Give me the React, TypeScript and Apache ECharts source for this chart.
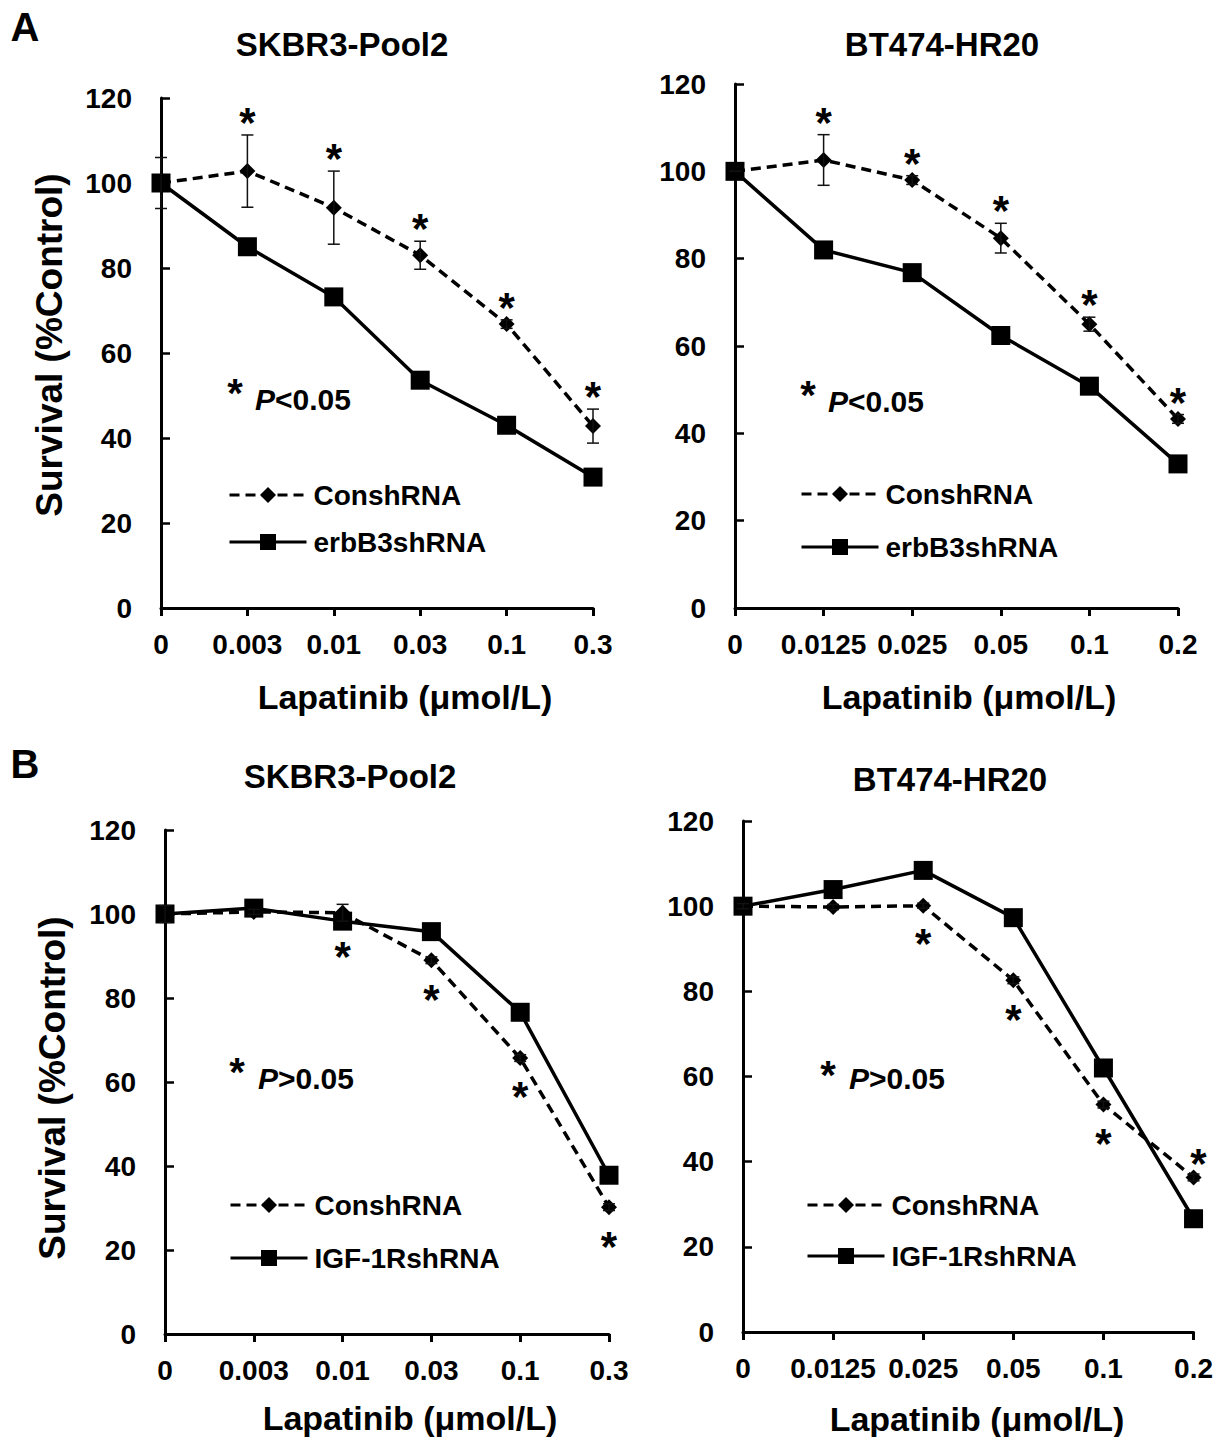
import React, { useEffect, useRef } from "react";
import * as echarts from "echarts";

// ---------- data ----------
const dosesSKBR3 = ["0", "0.003", "0.01", "0.03", "0.1", "0.3"];
const dosesBT474 = ["0", "0.0125", "0.025", "0.05", "0.1", "0.2"];
const yMin = 0;
const yMax = 120;
const yStep = 20;

// Panel A (erbB3 knockdown)
const aSkbrCons = [100, 102.8, 94.2, 83.0, 66.8, 42.8];
const aSkbrConsErr = [6, 8.5, 8.6, 3.3, 1.0, 4.0];
const aSkbrErbb3 = [100, 85.0, 73.2, 53.6, 43.0, 30.8];
const aSkbrStars = [1, 2, 3, 4, 5];

const aBtCons = [100, 102.6, 98.0, 84.7, 65.0, 43.3];
const aBtConsErr = [0, 5.8, 1.0, 3.4, 1.6, 1.0];
const aBtErbb3 = [100, 82.0, 76.8, 62.4, 50.8, 33.0];
const aBtStars = [1, 2, 3, 4, 5];

// Panel B (IGF-1R knockdown)
const bSkbrCons = [100, 100.5, 100.3, 89.0, 65.7, 30.2];
const bSkbrConsErr = [2, 0.6, 2, 0.8, 0.8, 0.8];
const bSkbrIgf = [100, 101.4, 98.3, 95.8, 76.6, 37.8];
const bSkbrStars = [2, 3, 4, 5];

const bBtCons = [100, 99.8, 100.1, 82.6, 53.4, 36.3];
const bBtConsErr = [0.6, 0.6, 0.6, 0.8, 0.8, 0.8];
const bBtIgf = [100, 103.9, 108.4, 97.3, 62.0, 26.6];
const bBtStars = [2, 3, 4, 5];

const FONT = '"Liberation Sans", Arial, Helvetica, sans-serif';

type Panel = {
  cats: string[];
  cons: number[];
  consErr: number[];
  kd: number[];
  kdName: string;
  stars: number[];
  starsBelow: boolean;
  grid: { left: number; top: number; width: number; height: number };
  legendTop: number;
  legendLeft: number;
  legendGap: number;
};

const panels: Panel[] = [
  {
    cats: dosesSKBR3, cons: aSkbrCons, consErr: aSkbrConsErr, kd: aSkbrErbb3, kdName: "erbB3shRNA",
    stars: aSkbrStars, starsBelow: false,
    grid: { left: 161, top: 98, width: 432, height: 510 },
    legendTop: 480, legendLeft: 228, legendGap: 17,
  },
  {
    cats: dosesBT474, cons: aBtCons, consErr: aBtConsErr, kd: aBtErbb3, kdName: "erbB3shRNA",
    stars: aBtStars, starsBelow: false,
    grid: { left: 735, top: 84, width: 443, height: 524 },
    legendTop: 479, legendLeft: 800, legendGap: 23,
  },
  {
    cats: dosesSKBR3, cons: bSkbrCons, consErr: bSkbrConsErr, kd: bSkbrIgf, kdName: "IGF-1RshRNA",
    stars: bSkbrStars, starsBelow: true,
    grid: { left: 165, top: 830, width: 444, height: 504 },
    legendTop: 1190, legendLeft: 229, legendGap: 23,
  },
  {
    cats: dosesBT474, cons: bBtCons, consErr: bBtConsErr, kd: bBtIgf, kdName: "IGF-1RshRNA",
    stars: bBtStars, starsBelow: true,
    grid: { left: 743, top: 821, width: 451, height: 511 },
    legendTop: 1190, legendLeft: 806, legendGap: 21,
  },
];

function buildOption() {
  const grids: any[] = [];
  const xAxes: any[] = [];
  const yAxes: any[] = [];
  const series: any[] = [];
  const legends: any[] = [];

  panels.forEach((p, i) => {
    grids.push({ ...p.grid, containLabel: false });
    xAxes.push({
      type: "category",
      gridIndex: i,
      data: p.cats,
      boundaryGap: false,
      axisLine: { show: true, onZero: false, lineStyle: { color: "#000", width: 3 } },
      axisTick: { show: true, inside: false, length: 8, lineStyle: { color: "#000", width: 3 } },
      axisLabel: {
        interval: 0,
        hideOverlap: false,
        margin: 22,
        color: "#000",
        fontSize: 28,
        fontWeight: "bold",
        fontFamily: FONT,
      },
      splitLine: { show: false },
    });
    yAxes.push({
      type: "value",
      gridIndex: i,
      min: yMin,
      max: yMax,
      interval: yStep,
      axisLine: { show: true, lineStyle: { color: "#000", width: 3 } },
      axisTick: { show: true, inside: true, length: 9, lineStyle: { color: "#000", width: 2.5 } },
      axisLabel: {
        margin: 29,
        color: "#000",
        fontSize: 28,
        fontWeight: "bold",
        fontFamily: FONT,
      },
      splitLine: { show: false },
    });

    // dashed control line
    series.push({
      name: "ConshRNA",
      type: "line",
      xAxisIndex: i,
      yAxisIndex: i,
      data: p.cons,
      symbol: "diamond",
      symbolSize: 16,
      showSymbol: true,
      itemStyle: { color: "#000" },
      lineStyle: { color: "#000", width: 3.5, type: [10, 6] },
      z: 2,
    });
    // solid knockdown line
    series.push({
      name: p.kdName,
      type: "line",
      xAxisIndex: i,
      yAxisIndex: i,
      data: p.kd,
      symbol: "rect",
      symbolSize: 19,
      showSymbol: true,
      itemStyle: { color: "#000" },
      lineStyle: { color: "#000", width: 3.5, type: "solid" },
      z: 3,
    });
    // error bars
    series.push({
      type: "custom",
      xAxisIndex: i,
      yAxisIndex: i,
      z: 4,
      silent: true,
      encode: { x: 0, y: [1, 2] },
      data: p.cons.map((v, k) => [k, v - p.consErr[k], v + p.consErr[k]]),
      renderItem: (params: any, api: any) => {
        const x = api.value(0);
        const lo = api.coord([x, api.value(1)]);
        const hi = api.coord([x, api.value(2)]);
        const w = 6;
        const st = { stroke: "#111", lineWidth: 1.5 };
        return {
          type: "group",
          children: [
            { type: "line", shape: { x1: lo[0], y1: lo[1], x2: hi[0], y2: hi[1] }, style: st },
            { type: "line", shape: { x1: hi[0] - w, y1: hi[1], x2: hi[0] + w, y2: hi[1] }, style: st },
            { type: "line", shape: { x1: lo[0] - w, y1: lo[1], x2: lo[0] + w, y2: lo[1] }, style: st },
          ],
        };
      },
    });
    // significance stars
    series.push({
      type: "scatter",
      xAxisIndex: i,
      yAxisIndex: i,
      z: 5,
      silent: true,
      symbol: "circle",
      symbolSize: 1,
      itemStyle: { color: "rgba(0,0,0,0)", opacity: 1 },
      data: p.stars.map((k) => {
        const anchor = p.starsBelow ? p.cons[k] - p.consErr[k] : p.cons[k] + p.consErr[k];
        const item: any = { value: [k, anchor] };
        if (p.starsBelow && k === p.cats.length - 1 && i === 3) {
          item.value = [k, p.cons[k]];
          item.label = { position: "top", distance: -8, offset: [5, 0] };
        }
        return item;
      }),
      label: {
        show: true,
        formatter: "*",
        position: p.starsBelow ? "bottom" : "top",
        distance: p.starsBelow ? 14 : -9,
        color: "#000",
        opacity: 1,
        fontSize: 42,
        fontWeight: "bold",
        fontFamily: FONT,
      },
    });

    legends.push({
      orient: "vertical",
      left: p.legendLeft,
      top: p.legendTop,
      data: ["ConshRNA", p.kdName],
      itemWidth: 77,
      itemHeight: 20,
      itemGap: p.legendGap,
      selectedMode: false,
      padding: 0,
      lineStyle: { width: 3 },
      textStyle: {
        color: "#000",
        fontSize: 28,
        fontWeight: "bold",
        fontFamily: FONT,
        lineHeight: 30,
        padding: [0, 0, 0, 2],
      },
    });
  });

  const txt = (x: number, y: number, text: string, size: number, extra: any = {}) => ({
    type: "text",
    x,
    y,
    silent: true,
    ...extra,
    style: {
      text,
      fill: "#000",
      fontSize: size,
      fontWeight: "bold",
      fontFamily: FONT,
      align: "center",
      verticalAlign: "middle",
      ...(extra.style || {}),
    },
  });

  const pText = (x: number, y: number, text: string) => ({
    type: "text",
    x,
    y,
    silent: true,
    style: {
      text,
      fill: "#000",
      fontSize: 30,
      fontWeight: "bold",
      fontFamily: FONT,
      align: "left",
      verticalAlign: "middle",
      rich: {
        i: { fontStyle: "italic", fontWeight: "bold", fontSize: 30, fontFamily: FONT, fill: "#000" },
        n: { fontWeight: "bold", fontSize: 30, fontFamily: FONT, fill: "#000" },
      },
    },
  });

  const graphic: any[] = [
    txt(25, 27, "A", 40),
    txt(25, 764, "B", 40),
    txt(342, 44, "SKBR3-Pool2", 33),
    txt(942, 44, "BT474-HR20", 33),
    txt(350, 776, "SKBR3-Pool2", 33),
    txt(950, 779, "BT474-HR20", 33),
    txt(49, 345, "Survival (%Control)", 37, { rotation: Math.PI / 2 }),
    txt(52, 1088, "Survival (%Control)", 37, { rotation: Math.PI / 2 }),
    txt(405, 697, "Lapatinib (μmol/L)", 34),
    txt(969, 697, "Lapatinib (μmol/L)", 34),
    txt(410, 1418, "Lapatinib (μmol/L)", 34),
    txt(977, 1419, "Lapatinib (μmol/L)", 34),
    // significance notes
    txt(235, 393, "*", 40),
    pText(255, 399, "{i|P}{n|<0.05}"),
    txt(808, 395, "*", 40),
    pText(828, 401, "{i|P}{n|<0.05}"),
    txt(237, 1072, "*", 40),
    pText(258, 1078, "{i|P}{n|>0.05}"),
    txt(828, 1075, "*", 40),
    pText(849, 1078, "{i|P}{n|>0.05}"),
  ];

  return {
    animation: false,
    backgroundColor: "#fff",
    grid: grids,
    xAxis: xAxes,
    yAxis: yAxes,
    series,
    legend: legends,
    graphic,
  };
}

export default function App() {
  const ref = useRef<HTMLDivElement>(null);
  useEffect(() => {
    document.body.style.margin = "0";
    if (!ref.current) return;
    const chart = echarts.init(ref.current, undefined, { renderer: "svg" });
    chart.setOption(buildOption());
    return () => chart.dispose();
  }, []);
  return <div ref={ref} style={{ width: 1216, height: 1437, background: "#fff" }} />;
}
